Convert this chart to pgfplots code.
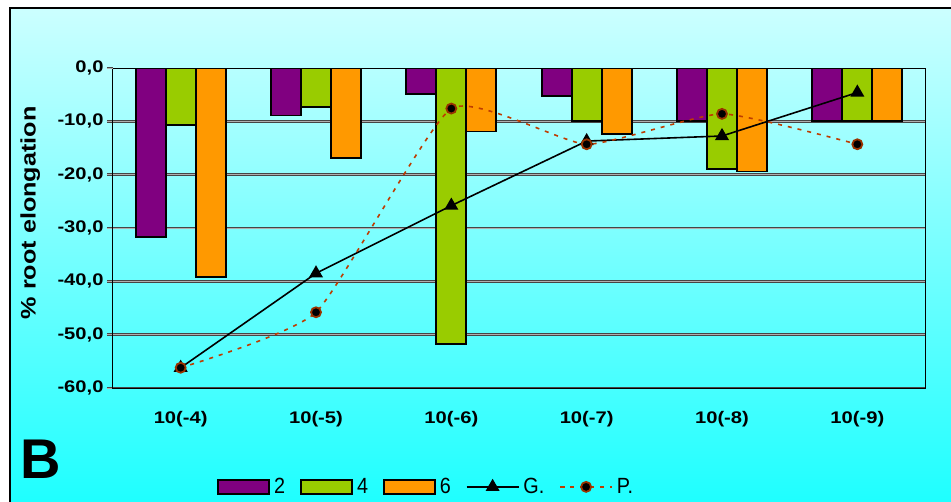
\documentclass[border=0pt]{standalone}
\usepackage{fontspec}
\setmainfont{Liberation Sans}
\usepackage{graphicx}
\usepackage{pgfplots}
\pgfplotsset{compat=1.18}
\definecolor{cpurple}{RGB}{128,0,128}
\definecolor{cgreen}{RGB}{153,204,0}
\definecolor{corange}{RGB}{255,153,0}
\definecolor{crust}{RGB}{190,60,0}
\definecolor{cmark}{RGB}{153,51,0}
\definecolor{bgtop}{RGB}{204,255,255}
\definecolor{bgbot}{RGB}{30,255,255}
\definecolor{gridc}{RGB}{70,70,70}
\definecolor{gridm}{RGB}{175,175,175}
\newcommand\tl[1]{\scalebox{1.2}[1]{\bfseries #1}}
\newcommand\legtxt[1]{\scalebox{0.9}[1]{\fontsize{22}{24}\selectfont #1}}
\pgfplotsset{
  barleg/.style={legend image code/.code={\draw[##1] (0pt,-7pt) rectangle (51pt,7pt);}},
  lineleg/.style={legend image code/.code={\draw[##1,mark repeat=2,mark phase=2] plot coordinates {(0pt,0pt)(26pt,0pt)(52pt,0pt)};}},
}
\begin{document}
\begin{tikzpicture}[x=1pt,y=1pt]
\useasboundingbox (0,0) rectangle (951,501);
\fill[white] (0,0) rectangle (951,501);
\shade[top color=bgtop,bottom color=bgbot] (10,-2) rectangle (953,493);
\draw[black,line width=1.2pt] (10,-2) -- (10,493) -- (953,493);
\node[anchor=base west,inner sep=0pt,font=\fontsize{56}{60}\selectfont\bfseries] at (20,23) {B};
\begin{axis}[
  at={(113pt,113pt)}, anchor=south west,
  scale only axis, width=812pt, height=320pt,
  xmin=-0.5, xmax=5.5, ymin=-60, ymax=0,
  ybar=0pt, bar width=30pt,
  axis line style={black,line width=1pt},
  xtick={0,...,5},
  xticklabels={\tl{10(-4)},\tl{10(-5)},\tl{10(-6)},\tl{10(-7)},\tl{10(-8)},\tl{10(-9)}},
  x tick label style={font=\fontsize{16.8}{20}\selectfont, yshift=-14pt},
  major x tick style={draw=none},
  ytick={-60,-50,-40,-30,-20,-10},
  yticklabels={\tl{-60,0},\tl{-50,0},\tl{-40,0},\tl{-30,0},\tl{-20,0},\tl{-10,0}},
  extra y ticks={0},
  extra y tick labels={\tl{0,0}},
  extra y tick style={grid=none, major tick style={black,line width=1pt}},
  y tick label style={font=\fontsize{16.8}{20}\selectfont},
  ytick pos=left, tick align=outside, major tick length=6pt,
  ymajorgrids,
  major grid style={draw=gridc, line width=0.9pt, double=gridm, double distance=1pt},
  major y tick style={draw=gridc, line width=0.9pt, double=gridm, double distance=1pt},
  ylabel={\tl{\% root elongation}},
  ylabel style={font=\fontsize{21}{24}\selectfont, at={(axis description cs:-0.102,0.547)}, anchor=center},
  legend columns=-1,
  legend style={at={(axis description cs:0.387,-0.309)}, anchor=center, draw=none, fill=none,
    font=\fontsize{22}{24}\selectfont, nodes={inner sep=4pt},
    /tikz/every even column/.append style={column sep=11pt}},
]
\addplot[fill=cpurple, draw=black, line width=1.8pt, barleg]
  coordinates {(0,-31.7)(1,-8.9)(2,-4.9)(3,-5.3)(4,-9.9)(5,-9.9)};
\addlegendentry{\legtxt{2}}
\addplot[fill=cgreen, draw=black, line width=1.8pt, barleg]
  coordinates {(0,-10.7)(1,-7.3)(2,-51.8)(3,-9.9)(4,-19.0)(5,-9.9)};
\addlegendentry{\legtxt{4}}
\addplot[fill=corange, draw=black, line width=1.8pt, barleg]
  coordinates {(0,-39.2)(1,-16.9)(2,-11.9)(3,-12.4)(4,-19.4)(5,-9.9)};
\addlegendentry{\legtxt{6}}
\addplot[sharp plot, black, line width=1.6pt, mark=triangle*, mark size=6.5pt,
  mark options={solid,fill=black}, lineleg]
  coordinates {(0,-56.2)(1,-38.5)(2,-25.8)(3,-13.7)(4,-12.75)(5,-4.6)};
\addlegendentry{\legtxt{G.}}
\addplot[smooth, tension=0.3, crust, line width=1.6pt, dash pattern=on 4pt off 6pt, mark=*, mark size=5pt,
  mark options={solid,fill=black,draw=cmark,line width=1.8pt}, lineleg]
  coordinates {(0,-56.2)(1,-45.8)(2,-7.6)(3,-14.3)(4,-8.6)(5,-14.3)};
\addlegendentry{\legtxt{P.}}
\draw[black,line width=1pt] (axis cs:0.5,0) ++(0,6pt) -- ++(0,-12pt);
\draw[black,line width=1pt] (axis cs:1.5,0) ++(0,6pt) -- ++(0,-12pt);
\draw[black,line width=1pt] (axis cs:2.5,0) ++(0,6pt) -- ++(0,-12pt);
\draw[black,line width=1pt] (axis cs:3.5,0) ++(0,6pt) -- ++(0,-12pt);
\draw[black,line width=1pt] (axis cs:4.5,0) ++(0,6pt) -- ++(0,-12pt);
\end{axis}
\end{tikzpicture}
\end{document}
